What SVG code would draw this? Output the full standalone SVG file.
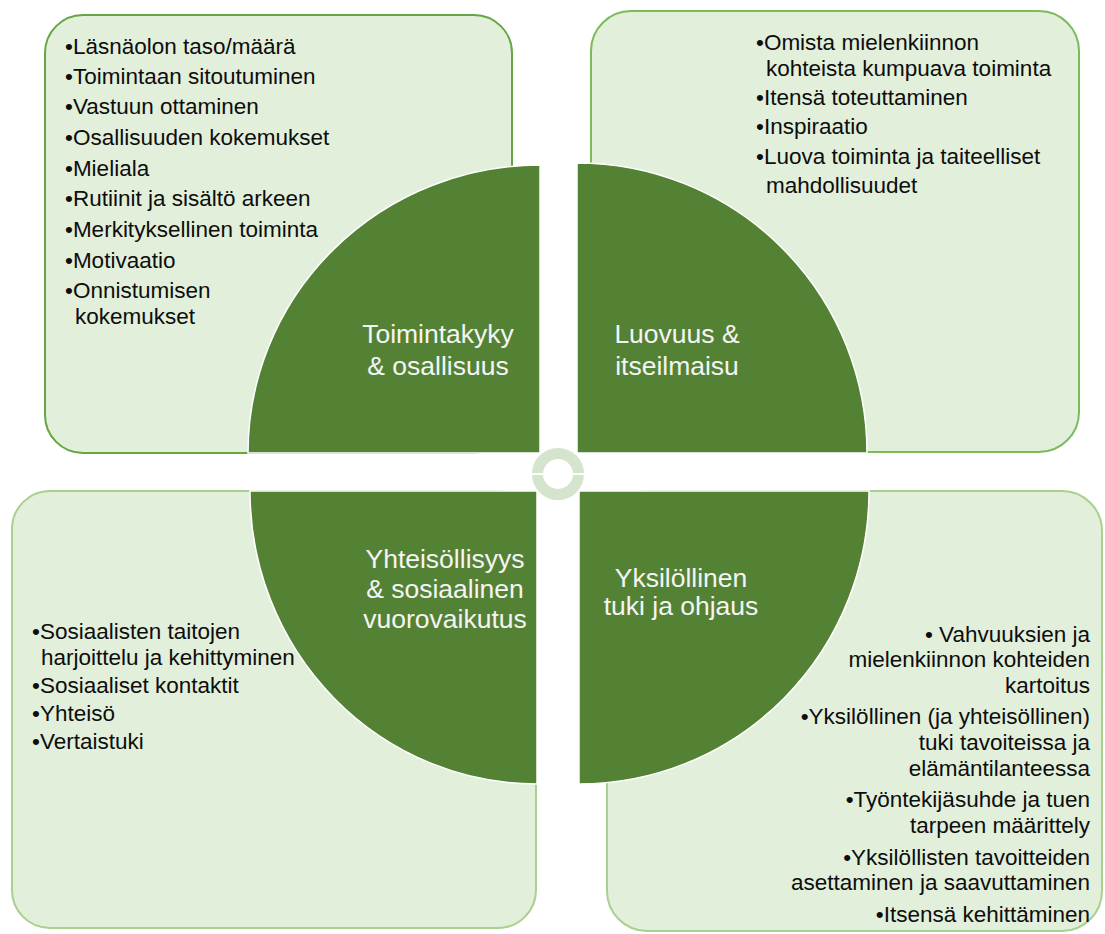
<svg xmlns="http://www.w3.org/2000/svg" width="1105" height="934" viewBox="0 0 1105 934">
<style>
.box{fill:#e2efda;stroke-width:2}
.bt1{stroke:#66a543}
.bt2{stroke:#7bbb5c}
.bb{stroke:#a9d08e}
.quad{fill:#548235;stroke:#ffffff;stroke-width:1.5}
.lbl{font-family:"Liberation Sans",Arial,sans-serif;font-size:26.5px;fill:#f4f4f4;text-anchor:middle}
.lst{font-family:"Liberation Sans",Arial,sans-serif;font-size:22.5px;fill:#0d0d0d}
.r{text-anchor:end}
</style>
<rect width="1105" height="934" fill="#ffffff"/>
<g id="toimintakyky">
<rect class="box bt1" x="45" y="15" width="467" height="438" rx="38" ry="38"/>
<path class="quad" d="M540,453 L248,453 A292,288 0 0 1 540,165 Z"/>
<text class="lbl" x="438" y="343">Toimintakyky</text>
<text class="lbl" x="438" y="375">&amp; osallisuus</text>
<text class="lst" x="65" y="54">•Läsnäolon taso/määrä</text>
<text class="lst" x="65" y="84">•Toimintaan sitoutuminen</text>
<text class="lst" x="65" y="114">•Vastuun ottaminen</text>
<text class="lst" x="65" y="145">•Osallisuuden kokemukset</text>
<text class="lst" x="65" y="176">•Mieliala</text>
<text class="lst" x="65" y="206">•Rutiinit ja sisältö arkeen</text>
<text class="lst" x="65" y="237">•Merkityksellinen toiminta</text>
<text class="lst" x="65" y="268">•Motivaatio</text>
<text class="lst" x="65" y="298">•Onnistumisen</text>
<text class="lst" x="75" y="324">kokemukset</text>
</g>
<g id="luovuus">
<rect class="box bt2" x="591" y="11" width="488" height="441" rx="40" ry="40"/>
<path class="quad" d="M577,453 L577,163 A290,290 0 0 1 867,453 Z"/>
<text class="lbl" x="677" y="343">Luovuus &amp;</text>
<text class="lbl" x="677" y="375">itseilmaisu</text>
<text class="lst" x="756" y="50">•Omista mielenkiinnon</text>
<text class="lst" x="766" y="76">kohteista kumpuava toiminta</text>
<text class="lst" x="756" y="105">•Itensä toteuttaminen</text>
<text class="lst" x="756" y="134">•Inspiraatio</text>
<text class="lst" x="756" y="164">•Luova toiminta ja taiteelliset</text>
<text class="lst" x="766" y="193">mahdollisuudet</text>
</g>
<g id="yhteisollisyys">
<rect class="box bb" x="12" y="491" width="524" height="437" rx="38" ry="38"/>
<path class="quad" d="M537,491 L537,784 A287,293 0 0 1 250,491 Z"/>
<text class="lbl" x="445" y="568">Yhteisöllisyys</text>
<text class="lbl" x="445" y="598">&amp; sosiaalinen</text>
<text class="lbl" x="445" y="628">vuorovaikutus</text>
<text class="lst" x="32" y="639">•Sosiaalisten taitojen</text>
<text class="lst" x="41" y="665">harjoittelu ja kehittyminen</text>
<text class="lst" x="32" y="693">•Sosiaaliset kontaktit</text>
<text class="lst" x="32" y="721">•Yhteisö</text>
<text class="lst" x="32" y="749">•Vertaistuki</text>
</g>
<g id="yksilollinen">
<rect class="box bb" x="607" y="491" width="495" height="440" rx="40" ry="40"/>
<path class="quad" d="M579,491 L869,491 A290,293 0 0 1 579,784 Z"/>
<text class="lbl" x="681" y="587">Yksilöllinen</text>
<text class="lbl" x="681" y="615">tuki ja ohjaus</text>
<text class="lst r" x="1090" y="642">• Vahvuuksien ja</text>
<text class="lst r" x="1090" y="667">mielenkiinnon kohteiden</text>
<text class="lst r" x="1090" y="693">kartoitus</text>
<text class="lst r" x="1090" y="724">•Yksilöllinen (ja yhteisöllinen)</text>
<text class="lst r" x="1090" y="750">tuki tavoiteissa ja</text>
<text class="lst r" x="1090" y="776">elämäntilanteessa</text>
<text class="lst r" x="1090" y="807">•Työntekijäsuhde ja tuen</text>
<text class="lst r" x="1090" y="833">tarpeen määrittely</text>
<text class="lst r" x="1090" y="865">•Yksilöllisten tavoitteiden</text>
<text class="lst r" x="1090" y="890">asettaminen ja saavuttaminen</text>
<text class="lst r" x="1090" y="922">•Itsensä kehittäminen</text>
</g>
<g id="center-ring">
<circle cx="558" cy="474" r="20.5" fill="none" stroke="#d4e4cd" stroke-width="11"/>
<rect x="530" y="473" width="56" height="2" fill="#ffffff"/>
</g>
<g id="connectors"/>
</svg>
